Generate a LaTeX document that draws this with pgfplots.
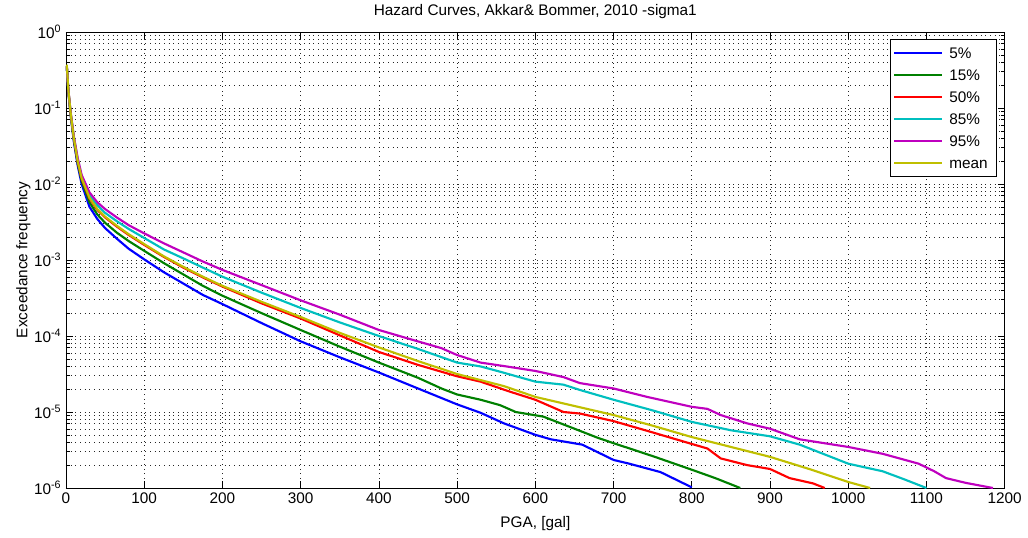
\documentclass[border=0pt]{standalone}
\usepackage{fontspec}
\setmainfont{Liberation Sans}
\usepackage{pgfplots}
\pgfplotsset{compat=1.18}
\definecolor{mblue}{rgb}{0,0,1}
\definecolor{mgreen}{rgb}{0,0.5,0}
\definecolor{mred}{rgb}{1,0,0}
\definecolor{mcyan}{rgb}{0,0.75,0.75}
\definecolor{mmagenta}{rgb}{0.75,0,0.75}
\definecolor{myellow}{rgb}{0.75,0.75,0}
\newcommand{\mfont}{\fontsize{11.5}{14}\selectfont}

\begin{document}
\begin{tikzpicture}
\path[use as bounding box] (-49.5pt,-36.75pt) rectangle (721.5pt,366pt);
\begin{axis}[
  at={(0pt,0pt)}, anchor=south west,
  scale only axis, width=704pt, height=342pt,
  xmin=0, xmax=1200, ymode=log, log basis y=10, ymin=1e-6, ymax=1,
  xtick={0,100,...,1200},
  ytick={1e-6,1e-5,1e-4,1e-3,1e-2,1e-1,1},
  minor ytick={2e-6,3e-6,4e-6,5e-6,6e-6,7e-6,8e-6,9e-6,
               2e-5,3e-5,4e-5,5e-5,6e-5,7e-5,8e-5,9e-5,
               2e-4,3e-4,4e-4,5e-4,6e-4,7e-4,8e-4,9e-4,
               2e-3,3e-3,4e-3,5e-3,6e-3,7e-3,8e-3,9e-3,
               2e-2,3e-2,4e-2,5e-2,6e-2,7e-2,8e-2,9e-2,
               0.2,0.3,0.4,0.5,0.6,0.7,0.8,0.9},
  yticklabels={10\textsuperscript{-6},10\textsuperscript{-5},10\textsuperscript{-4},10\textsuperscript{-3},10\textsuperscript{-2},10\textsuperscript{-1},10\textsuperscript{0}},
  /pgf/number format/1000 sep={},
  /pgf/number format/assume math mode=true,
  tick label style={font=\mfont},
  major tick length=5pt, minor tick length=3pt,
  axis line style={line width=0.6pt},
  every tick/.style={black, line width=0.5pt},
  xmajorgrids, ymajorgrids, yminorgrids,
  major grid style={black!85, line width=0.5pt, dash pattern=on 0.5pt off 3pt},
  minor grid style={black!85, line width=0.5pt, dash pattern=on 0.5pt off 3pt},
  title={Hazard Curves, Akkar\& Bommer, 2010 -sigma1},
  every axis title/.style={font=\mfont, at={(axis description cs:0.5,1.046)}, anchor=center},
  xlabel={PGA, [gal]},
  every axis x label/.style={font=\mfont, at={(axis description cs:0.5,-0.079)}, anchor=center},
  ylabel={Exceedance frequency},
  every axis y label/.style={font=\mfont, at={(axis description cs:-0.0455,0.5)}, rotate=90, anchor=center},
  legend style={font=\mfont, at={(1,1)}, anchor=north east, xshift=-6pt, yshift=-5.25pt,
    draw=black, line width=0.6pt, fill=white, inner sep=2pt,
    nodes={inner xsep=4.5pt, inner ysep=3.5pt, text height=8.5pt, text depth=1pt}},
  legend cell align=left,
  legend image code/.code={\draw[#1] (0pt,0pt) -- (36pt,0pt);},
  every axis plot/.append style={line width=1.6pt, mark=none},
]
% 5%
\addplot[mblue] coordinates {
 (1,0.355) (3,0.162) (6,0.0794) (10,0.0363) (15,0.0174) (20,0.0100)
 (30,0.00501) (40,0.00347) (50,0.00263) (65,0.00191) (80,0.00141) (100,0.00102)
 (125,6.92e-4) (150,4.90e-4) (175,3.47e-4) (200,2.63e-4) (250,1.48e-4) (300,8.51e-5)
 (350,5.25e-5) (400,3.31e-5) (450,2.04e-5) (500,1.26e-5) (530,9.77e-6) (560,7.08e-6)
 (600,5.01e-6) (620,4.37e-6) (660,3.72e-6) (680,2.95e-6) (700,2.34e-6) (720,2.09e-6)
 (760,1.62e-6) (800,1.02e-6)
};
% 15%
\addplot[mgreen] coordinates {
 (1,0.355) (3,0.166) (6,0.0813) (10,0.0380) (15,0.0186) (20,0.0110)
 (30,0.00575) (40,0.00398) (50,0.00309) (65,0.00229) (80,0.00178) (100,0.00132)
 (125,9.12e-4) (150,6.46e-4) (175,4.57e-4) (200,3.39e-4) (250,2.00e-4) (300,1.20e-4)
 (350,7.24e-5) (400,4.47e-5) (450,2.82e-5) (480,2.04e-5) (500,1.70e-5) (530,1.45e-5)
 (555,1.23e-5) (575,1.00e-5) (610,8.71e-6) (650,6.03e-6) (680,4.57e-6) (700,3.89e-6)
 (750,2.63e-6) (800,1.74e-6) (830,1.35e-6) (862,1.00e-6)
};
% 50%
\addplot[mred] coordinates {
 (1,0.355) (3,0.170) (6,0.0832) (10,0.0398) (15,0.0195) (20,0.0117)
 (30,0.00646) (40,0.00457) (50,0.00363) (65,0.00275) (80,0.00214) (100,0.00158)
 (125,0.00110) (150,7.94e-4) (175,5.89e-4) (200,4.47e-4) (250,2.69e-4) (300,1.70e-4)
 (350,1.02e-4) (400,6.17e-5) (450,4.17e-5) (500,2.95e-5) (530,2.51e-5) (567,1.86e-5)
 (600,1.45e-5) (636,1.00e-5) (657,9.55e-6) (700,7.59e-6) (747,5.50e-6) (800,3.80e-6)
 (820,3.31e-6) (837,2.45e-6) (871,2.00e-6) (900,1.78e-6) (925,1.35e-6) (955,1.15e-6)
 (970,1.00e-6)
};
% 85%
\addplot[mcyan] coordinates {
 (1,0.355) (3,0.170) (6,0.0851) (10,0.0417) (15,0.0209) (20,0.0126)
 (30,0.00708) (40,0.00525) (50,0.00417) (65,0.00324) (80,0.00257) (100,0.00195)
 (125,0.00138) (150,0.00105) (175,7.94e-4) (200,6.03e-4) (250,3.72e-4) (300,2.34e-4)
 (350,1.51e-4) (400,1.00e-4) (450,6.76e-5) (500,4.47e-5) (530,3.98e-5) (555,3.39e-5)
 (600,2.51e-5) (636,2.29e-5) (657,1.95e-5) (700,1.45e-5) (750,1.05e-5) (800,7.41e-6)
 (850,5.75e-6) (900,4.79e-6) (938,3.72e-6) (1000,2.09e-6) (1044,1.66e-6) (1070,1.32e-6)
 (1100,1.00e-6)
};
% 95%
\addplot[mmagenta] coordinates {
 (1,0.355) (3,0.174) (6,0.0871) (10,0.0427) (15,0.0219) (20,0.0132)
 (30,0.00776) (40,0.00575) (50,0.00468) (65,0.00363) (80,0.00288) (100,0.00224)
 (125,0.00166) (150,0.00126) (175,9.55e-4) (200,7.41e-4) (250,4.68e-4) (300,2.95e-4)
 (350,1.91e-4) (400,1.20e-4) (443,8.91e-5) (480,6.92e-5) (500,5.62e-5) (530,4.47e-5)
 (563,3.98e-5) (600,3.47e-5) (636,2.88e-5) (657,2.40e-5) (700,2.04e-5) (743,1.58e-5)
 (800,1.17e-5) (820,1.10e-5) (837,9.12e-6) (871,7.08e-6) (900,6.03e-6) (938,4.37e-6)
 (1000,3.47e-6) (1044,2.82e-6) (1090,2.09e-6) (1110,1.66e-6) (1125,1.35e-6) (1150,1.17e-6)
 (1185,1.00e-6)
};
% mean
\addplot[myellow] coordinates {
 (1,0.372) (3,0.174) (6,0.0851) (10,0.0407) (15,0.0200) (20,0.0120)
 (30,0.00661) (40,0.00468) (50,0.00372) (65,0.00282) (80,0.00219) (100,0.00162)
 (125,0.00112) (150,8.13e-4) (175,6.03e-4) (200,4.57e-4) (250,2.82e-4) (300,1.78e-4)
 (350,1.10e-4) (400,7.08e-5) (450,4.68e-5) (500,3.16e-5) (530,2.63e-5) (560,2.19e-5)
 (600,1.58e-5) (650,1.20e-5) (700,9.12e-6) (750,6.61e-6) (800,4.68e-6) (850,3.47e-6)
 (900,2.57e-6) (950,1.78e-6) (1000,1.20e-6) (1028,1.00e-6)
};
\legend{5\%,15\%,50\%,85\%,95\%,mean}
\end{axis}
\end{tikzpicture}
\end{document}
